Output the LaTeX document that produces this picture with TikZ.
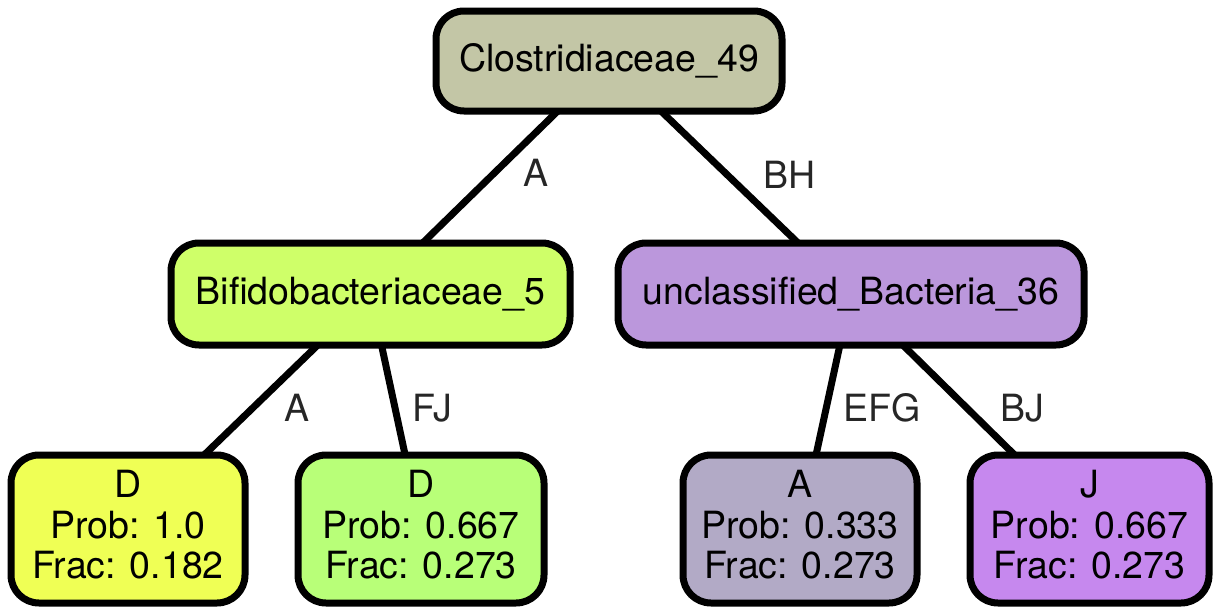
\documentclass[tikz,border=0pt]{standalone}
\usepackage{fontspec}
\setmainfont{TeX Gyre Heros}
\definecolor{cRoot}{HTML}{C3C6A6}
\definecolor{cBif}{HTML}{CFFF69}
\definecolor{cUnc}{HTML}{BB97DC}
\definecolor{cLa}{HTML}{EFFF55}
\definecolor{cLb}{HTML}{B8FF78}
\definecolor{cLc}{HTML}{B2AAC6}
\definecolor{cLd}{HTML}{C688EE}
\begin{document}
\begin{tikzpicture}[x=1pt,y=-1pt,
  every node/.style={font=\fontsize{37.5}{40.5}\selectfont},
  box/.style={draw, line width=7pt, rounded corners=28pt, inner sep=0pt, outer sep=0pt, align=center},
  inner/.style={box, minimum height=102pt},
  leaf/.style={box, minimum height=148pt, text depth=9pt},
  edge/.style={line width=7pt},
  elabel/.style={text=black!85}]
\useasboundingbox (0,0) rectangle (1221,613);
\node[box, fill=cRoot, minimum width=346pt, minimum height=100pt] (root) at (609,61) {Clostridiaceae\_49};
\node[inner, fill=cBif, minimum width=399pt] (bif) at (370.5,294) {Bifidobacteriaceae\_5};
\node[inner, fill=cUnc, minimum width=466pt] (unc) at (851,294) {unclassified\_Bacteria\_36};
\node[leaf, fill=cLa, minimum width=234pt] (la) at (128,529) {D\\Prob: 1.0\\Frac: 0.182};
\node[leaf, fill=cLb, minimum width=246pt] (lb) at (421,529) {D\\Prob: 0.667\\Frac: 0.273};
\node[leaf, fill=cLc, minimum width=234pt] (lc) at (800,529) {A\\Prob: 0.333\\Frac: 0.273};
\node[leaf, fill=cLd, minimum width=239pt] (ld) at (1089.5,529) {J\\Prob: 0.667\\Frac: 0.273};
\draw[edge] (root) -- node[elabel, xshift=46pt, yshift=4pt] {A} (bif);
\draw[edge] (root) -- node[elabel, xshift=60pt, yshift=2pt] {BH} (unc);
\draw[edge] (bif) -- node[elabel, xshift=36pt, yshift=-8pt] {A} (la);
\draw[edge] (bif) -- node[elabel, xshift=39pt, yshift=-8pt] {FJ} (lb);
\draw[edge] (unc) -- node[elabel, xshift=54pt, yshift=-8pt] {EFG} (lc);
\draw[edge] (unc) -- node[elabel, xshift=64pt, yshift=-8pt] {BJ} (ld);
\end{tikzpicture}
\end{document}
